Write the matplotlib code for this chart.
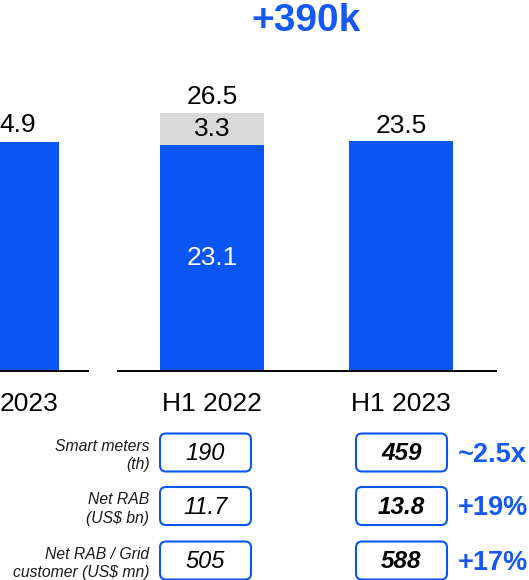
import matplotlib
matplotlib.use("Agg")
import matplotlib.pyplot as plt
from matplotlib.patches import FancyBboxPatch

plt.rcParams['font.family'] = ['Liberation Sans', 'DejaVu Sans']

# ---- data ----
categories = ["H1 2022", "H1 2023"]
base_values = [23.1, 23.5]
extra_values = [3.3, 0.0]
total_labels = ["26.5", "23.5"]
show_inner_label = [True, False]
left_value = 24.9            # cropped bar of the neighbouring chart
left_value_visible = "4.9"   # visible part of its label
left_category_visible = "2023"
headline = "+390k"

row_labels = ["Smart meters\n(th)", "Net RAB\n(US$ bn)", "Net RAB / Grid\ncustomer (US$ mn)"]
h1_2022_kpis = ["190", "11.7", "505"]
h1_2023_kpis = ["459", "13.8", "588"]
changes = ["~2.5x", "+19%", "+17%"]

# ---- style ----
BLUE = "#0A55F6"
TXT_BLUE = "#1558F5"
GREY = "#D9D9D9"
W, H = 529, 580

fig = plt.figure(figsize=(W / 100, H / 100), dpi=100)

def fx(px):
    return px / W

def fy(py):
    return 1 - py / H

base_y = 371
px_per_unit = 9.78
spacing = 189.0
bar_w = 103.5 / spacing

# main chart axes
ax = fig.add_axes([fx(118), fy(base_y), fx(496) - fx(118), base_y / H])
c0 = 212.0
ax.set_xlim((118 - c0) / spacing, (496 - c0) / spacing)
ax.set_ylim(0, base_y / px_per_unit)
x = list(range(len(categories)))
ax.bar(x, base_values, width=bar_w, color=BLUE, edgecolor="none")
ax.bar(x, extra_values, bottom=base_values, width=bar_w, color=GREY, edgecolor="none")
for i in x:
    top = base_values[i] + extra_values[i]
    ax.annotate(total_labels[i], (i, top), xytext=(0, 6), textcoords="offset points",
                ha="center", va="baseline", fontsize=19, color="black")
    if show_inner_label[i]:
        ax.text(i, base_values[i] / 2, f"{base_values[i]:.1f}", ha="center", va="center",
                fontsize=19, color="white")
    if extra_values[i] > 0:
        ax.text(i, base_values[i] + extra_values[i] / 2, f"{extra_values[i]:.1f}",
                ha="center", va="center", fontsize=19, color="black")
for s in ["top", "right", "left"]:
    ax.spines[s].set_visible(False)
ax.spines["bottom"].set_linewidth(1.4)
ax.set_xticks(x)
ax.set_xticklabels(categories, fontsize=19)
ax.tick_params(axis="x", length=0, pad=15)
ax.set_yticks([])
ax.patch.set_alpha(0)

# left (cropped) chart axes
axl = fig.add_axes([0, fy(base_y), fx(88), base_y / H])
cl = 7.0
axl.set_xlim((0 - cl) / spacing, (88 - cl) / spacing)
axl.set_ylim(0, left_value * base_y / 229.3)
axl.bar([0], [left_value], width=bar_w, color=BLUE, edgecolor="none")
for s in ["top", "right", "left"]:
    axl.spines[s].set_visible(False)
axl.spines["bottom"].set_linewidth(1.4)
axl.set_xticks([])
axl.set_yticks([])
axl.patch.set_alpha(0)

# overlay in pixel coordinates for headline, cropped labels and KPI table
ov = fig.add_axes([0, 0, 1, 1])
ov.set_xlim(0, W)
ov.set_ylim(H, 0)
ov.axis("off")
ov.patch.set_alpha(0)

ov.text(-0.5, 132.5, left_value_visible, ha="left", va="baseline", fontsize=19, color="black")
ov.text(-0.5, 404, left_category_visible, ha="left", va="center", fontsize=19, color="black")

ov.text(306.5, 21, headline, ha="center", va="center", fontsize=28, fontweight="bold",
        color=TXT_BLUE)

row_cy = [452.5, 506.0, 560.5]
col_cx = [205.5, 401.5]
box_w, box_h = 91, 38
for r, cy in enumerate(row_cy):
    ov.text(149.5, cy + 3, row_labels[r], ha="right", va="center", fontsize=11.3,
            style="italic", linespacing=1.3, color="#1a1a1a")
    for c, (cx, vals) in enumerate(zip(col_cx, [h1_2022_kpis, h1_2023_kpis])):
        box = FancyBboxPatch((cx - box_w / 2 + 5, cy - box_h / 2 + 5), box_w - 10, box_h - 10,
                             boxstyle="round,pad=5,rounding_size=6", linewidth=1.5,
                             edgecolor=BLUE, facecolor="white")
        ov.add_patch(box)
        ov.text(cx, cy + 1.5, vals[r], ha="center", va="center",
                fontsize=17.5 if c == 1 else 17, style="italic",
                fontweight="bold" if c == 1 else "normal", color="black")
    ov.text(457.5, cy + 2, changes[r], ha="left", va="center", fontsize=19.5, fontweight="bold",
            color=TXT_BLUE)

fig.savefig("out.png", dpi=100)
